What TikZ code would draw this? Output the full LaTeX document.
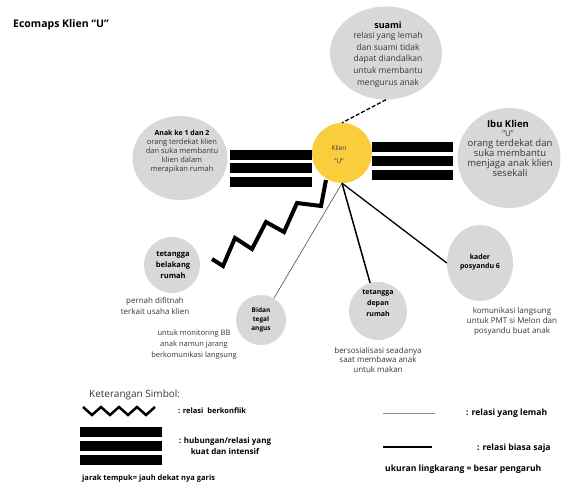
\documentclass[tikz,border=0pt]{standalone}
\usepackage{fontspec}
\setmainfont{Open Sans}
\usetikzlibrary{shapes.geometric}
\definecolor{cgray}{RGB}{216,216,216}
\definecolor{cyellow}{RGB}{250,205,60}
\definecolor{ctext}{RGB}{55,55,55}
\begin{document}
\begin{tikzpicture}[x=1pt,y=-1pt,
  bub/.style={ellipse, fill=cgray, draw=none, inner sep=0pt},
  bodytxt/.style={align=center, text=ctext, inner sep=0pt},
  headtxt/.style={align=center, text=black, inner sep=0pt, font=\bfseries},
  strongbar/.style={fill=black},
  conflict/.style={line width=4pt, line join=miter, miter limit=10},
  weakline/.style={line width=0.6pt, draw=black!70},
  normline/.style={line width=1.5pt, draw=black}]
\useasboundingbox (0,0) rectangle (561,489);
\fill[white] (0,0) rectangle (561,489);

% title
\node[headtxt, anchor=west, font=\bfseries\fontsize{10.5}{12}\selectfont] (title) at (13,25) {Ecomaps Klien “U”};

% circles
\node[bub, minimum width=112pt, minimum height=93pt] (suami) at (386,53) {};
\node[circle, fill=cyellow, inner sep=0pt, minimum size=60pt] (klien) at (342,153) {};
\node[bub, minimum width=103pt, minimum height=100pt] (ibu) at (509,158) {};
\node[bub, minimum width=95pt, minimum height=84pt] (anak) at (180,158) {};
\node[bub, minimum width=56pt, minimum height=56pt] (belakang) at (172,265) {};
\node[bub, minimum width=50pt, minimum height=50pt] (bidan) at (261,320) {};
\node[bub, minimum width=58pt, minimum height=58pt] (depan) at (378,311) {};
\node[bub, minimum width=66pt, minimum height=76pt] (kader) at (480,263) {};

% strong bars
\fill[strongbar] (372,142) rectangle (453,152);
\fill[strongbar] (372,156) rectangle (453,166);
\fill[strongbar] (372,170) rectangle (453,180);
\fill[strongbar] (230,150) rectangle (312,160);
\fill[strongbar] (230,163) rectangle (312,173);
\fill[strongbar] (230,177) rectangle (312,187);

% connectors
\draw[dashed, line width=1.3pt, dash pattern=on 4pt off 2pt] (suami.south) -- (klien.north);
\draw[conflict] (212,259) -- (223,266) -- (235,238) -- (252,249) -- (266,222) -- (284,232) -- (297,203) -- (321,206) -- (326,180);
\draw[weakline] (klien.south) -- (bidan);
\draw[normline] (klien.south) -- (depan);
\draw[normline, line width=1.3pt] (klien.south) -- (kader.west);

% texts in circles
\node[headtxt, font=\bfseries\fontsize{9}{11}\selectfont] (suamiH) at (388,25) {suami};
\node[bodytxt, font=\fontsize{8.5}{11.7}\selectfont] (suamiB) at (388,59.5) {relasi yang lemah\\dan suami tidak\\dapat diandalkan\\untuk membantu\\mengurus anak};

\node[bodytxt, font=\fontsize{6.5}{13}\selectfont] (klienT) at (339,154.5) {Klien\\"U"};

\node[headtxt, font=\bfseries\fontsize{9.5}{11}\selectfont] (ibuH) at (508,124) {Ibu Klien};
\node[bodytxt, font=\fontsize{8}{10}\selectfont] (ibuU) at (508,134) {"U"};
\node[bodytxt, font=\fontsize{9.5}{10}\selectfont] (ibuB) at (510,158) {orang terdekat dan\\suka membantu\\menjaga anak klien\\sesekali};

\node[headtxt, font=\bfseries\fontsize{7}{9}\selectfont] (anakH) at (182,133) {Anak ke 1 dan 2};
\node[bodytxt, font=\fontsize{7.5}{9}\selectfont] (anakB) at (182,156) {orang terdekat klien\\dan suka membantu\\klien dalam\\merapikan rumah};

\node[headtxt, font=\bfseries\fontsize{7.5}{11}\selectfont] (belakangT) at (173,265) {tetangga\\belakang\\rumah};
\node[bodytxt, font=\fontsize{8}{11}\selectfont] (belakangB) at (155,305.5) {pernah difitnah\\terkait usaha klien};

\node[headtxt, font=\bfseries\fontsize{6.5}{9}\selectfont] (bidanT) at (261,320) {Bidan\\tegal\\angus};
\node[bodytxt, font=\fontsize{7.5}{11}\selectfont] (bidanB) at (194,345) {untuk monitoring BB\\anak namun jarang\\berkomunikasi langsung};

\node[headtxt, font=\bfseries\fontsize{7}{11}\selectfont] (depanT) at (378,303) {tetangga\\depan\\rumah};
\node[bodytxt, font=\fontsize{8}{9.5}\selectfont] (depanB) at (378,359.5) {bersosialisasi seadanya\\saat membawa anak\\untuk makan};

\node[headtxt, font=\bfseries\fontsize{7}{9}\selectfont] (kaderT) at (480,262.5) {kader\\posyandu 6};
\node[bodytxt, font=\fontsize{8}{10}\selectfont] (kaderB) at (512,321) {komunikasi langsung\\untuk PMT si Melon dan\\posyandu buat anak};

% legend
\node[bodytxt, anchor=west, font=\fontsize{10}{12}\selectfont] (ket) at (89,395) {Keterangan Simbol:};
\draw[conflict, line width=2.5pt] (83,407) -- (92,415) -- (101,407) -- (110,415) -- (119,407) -- (128,415) -- (137,407) -- (146,415) -- (155,407);
\node[headtxt, anchor=west, font=\bfseries\fontsize{7.5}{9}\selectfont] (lgConf) at (178,411) {: relasi~ berkonflik};
\fill[strongbar] (80,427) rectangle (162,437);
\fill[strongbar] (80,441) rectangle (162,451);
\fill[strongbar] (80,455) rectangle (162,465);
\node[headtxt, font=\bfseries\fontsize{8}{11}\selectfont] (lgStrong) at (225,446) {: hubungan/relasi yang\\kuat dan intensif};
\node[headtxt, anchor=west, font=\bfseries\fontsize{7.5}{9}\selectfont] (lgJarak) at (82,479) {jarak tempuk= jauh dekat nya garis};

\coordinate (w1) at (383,413);
\coordinate (w2) at (435,413);
\draw[weakline, draw=black!45] (w1) -- (w2);
\node[headtxt, anchor=west, font=\bfseries\fontsize{8.6}{10}\selectfont] (lgWeak) at (466,413) {: relasi yang lemah};
\coordinate (n1) at (383,447);
\coordinate (n2) at (432,447);
\draw[normline] (n1) -- (n2);
\node[headtxt, anchor=west, font=\bfseries\fontsize{8.6}{10}\selectfont] (lgNorm) at (477,448) {: relasi biasa saja};
\node[headtxt, anchor=west, font=\bfseries\fontsize{8.6}{10}\selectfont] (lgSize) at (385,469) {ukuran lingkarang = besar pengaruh};
\end{tikzpicture}
\end{document}
